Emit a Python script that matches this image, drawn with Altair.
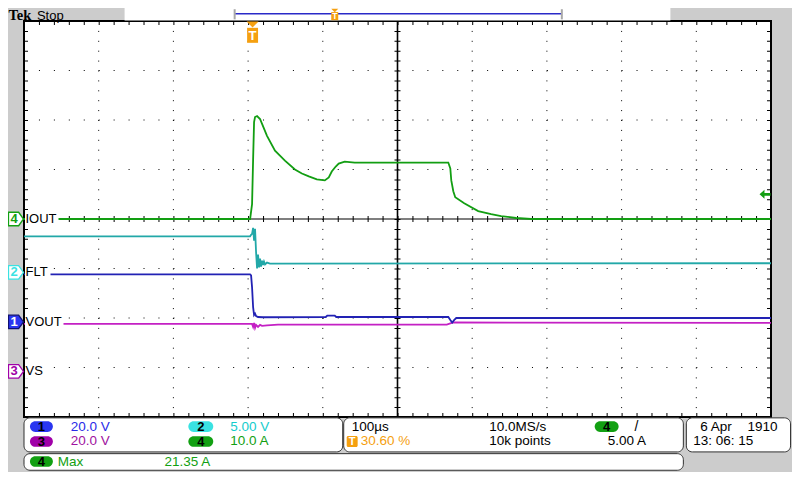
import altair as alt
import pandas as pd

# ---------------- values ----------------
TIME_PER_DIV_US = 100.0
N_XDIV = 10
N_YDIV = 8

ch_ids = ["1", "2", "3", "4"]
ch_names = ["VOUT", "FLT", "VS", "IOUT"]
ch_per_div = [20.0, 5.0, 20.0, 10.0]          # V/div or A/div
ch_offset = [-2.08, -1.08, -3.08, 0.0]        # trace position (divisions)
ch_scale_text = ["20.0 V", "5.00 V", "20.0 V", "10.0 A"]

trigger_pct = 30.60
trigger_level = 5.00
trigger_level_text = "5.00 A"
iout_max_text = "21.35 A"
timebase_text = "100µs"
trigger_text = "30.60 %"
rate_text = "10.0MS/s"
points_text = "10k points"
date_text = "6 Apr"
year_text = "1910"
time_text = "13: 06: 15"

# channel 4 : IOUT  (time in us from the left edge of the screen, amps)
iout_t = [0, 302.7, 305.3, 306.7, 308.0, 309.3, 312.0, 316.0, 318.7, 325.3, 336.0,
          349.3, 362.7, 372.0, 381.3, 392.0, 402.7, 408.0, 412.0, 417.3, 421.3,
          429.3, 442.7, 500.0, 568.0, 570.7, 572.0, 574.7, 577.3, 589.3, 608.0,
          625.3, 638.7, 658.7, 678.7, 1000]
iout_a = [0, 0, 3.0, 12.0, 19.6, 20.6, 20.8, 20.2, 19.2, 16.8, 13.8,
          11.8, 10.0, 9.2, 8.6, 8.0, 7.8, 8.4, 9.6, 10.6, 11.2,
          11.6, 11.4, 11.4, 11.4, 10.2, 7.8, 5.6, 4.4, 3.2, 1.6,
          1.0, 0.6, 0.2, 0.0, 0.0]

# channel 2 : FLT (volts)
flt_t = [0, 302.7, 304.0, 305.3, 306.7, 308.0, 309.3, 310.7, 312.0, 313.3, 314.7,
         316.0, 317.3, 318.7, 320.0, 321.3, 322.7, 325.3, 329.3, 1000]
flt_v = [3.65, 3.65, 3.8, 3.9, 4.5, 3.2, 4.4, 2.0, 0.4, 1.8, 0.5,
         1.4, 0.6, 1.2, 0.75, 1.1, 0.82, 1.0, 0.9, 0.93]

# channel 1 : VOUT (volts)
vout_t = [0, 302.7, 304.0, 305.3, 306.7, 308.0, 309.3, 310.7, 313.3, 320.0, 404.0,
          406.0, 416.0, 418.0, 568.0, 570.7, 573.3, 576.0, 578.7, 1000]
vout_v = [19.2, 19.2, 18.8, 14.0, 6.0, 2.8, 3.4, 2.4, 2.0, 1.9, 2.0,
          2.6, 2.6, 2.0, 2.0, 0.8, -0.2, 0.8, 1.6, 1.6]

# channel 3 : VS (volts)
vs_t = [0, 302.7, 305.3, 306.7, 308.0, 309.3, 310.7, 313.3, 316.0, 318.7, 325.3,
        340.0, 566.0, 570.7, 574.7, 1000]
vs_v = [19.2, 19.2, 19.2, 18.0, 19.6, 17.6, 18.8, 18.0, 18.8, 18.4, 18.6,
        18.9, 18.9, 19.4, 19.8, 19.6]

grid_x = [-4, -3, -2, -1, 1, 2, 3, 4]
grid_y = [-3, -2, -1, 1, 2, 3]

# ---------------- styling ----------------
TRACE_COL = {"1": "#2222b4", "2": "#22a8a8", "3": "#c420c4", "4": "#129e12"}
TEXT_COL = {"1": "#2a2ae8", "2": "#14cccc", "3": "#a012a0", "4": "#12a012"}
PILL_COL = {"1": "#2a36f0", "2": "#3ae2e2", "3": "#a000a8", "4": "#12a012"}
ORANGE = "#f5a010"
SANS = "Liberation Sans"

W, H = 784, 464


def fx(r):
    if r <= 21:
        p = 8 + r * 16 / 21
    elif r <= 771:
        p = 24 + (r - 21) * 747 / 750
    else:
        p = 771 + (r - 771) * 21 / 29
    return p - 8


def fy(r):
    if r <= 16:
        p = 8 + r * 13 / 16
    elif r <= 417:
        p = 21 + (r - 16) * 396 / 401
    else:
        p = 417 + (r - 417) * 55 / 63
    return p - 8


X0, X1 = fx(21), fx(771)
Y0, Y1 = fy(16), fy(417)
DX = (X1 - X0) / 50.0
DY = (Y1 - Y0) / 40.0
XS = alt.Scale(domain=[-N_XDIV / 2, N_XDIV / 2], range=[X0, X1])
YS = alt.Scale(domain=[-N_YDIV / 2, N_YDIV / 2], range=[Y1, Y0])
ONE = pd.DataFrame({"k": [0]})
L = []


def rect(x0, x1, y0, y1, **kw):
    return alt.Chart(ONE).mark_rect(**kw).encode(
        x=alt.value(x0), x2=alt.value(x1), y=alt.value(y0), y2=alt.value(y1))


def text(s, x, y, color="black", size=13.5, align="left", font=SANS, weight="normal",
         baseline="middle"):
    return alt.Chart(ONE).mark_text(text=s, align=align, baseline=baseline, font=font,
                                    fontSize=size, fontWeight=weight, color=color).encode(
        x=alt.value(x), y=alt.value(y))


def hrule(y, x0, x1, **kw):
    return alt.Chart(ONE).mark_rule(**kw).encode(y=alt.value(y), x=alt.value(x0), x2=alt.value(x1))


def vrule(x, y0, y1, **kw):
    return alt.Chart(ONE).mark_rule(**kw).encode(x=alt.value(x), y=alt.value(y0), y2=alt.value(y1))


# plot area
L.append(rect(X0, X1, Y0, Y1, fill="white", stroke="black", strokeWidth=2))

# dotted graticule
L.append(alt.Chart(pd.DataFrame({"g": grid_x})).mark_rule(
    color="black", strokeWidth=1, strokeDash=[1, DY - 1]).encode(
    x=alt.X("g:Q", scale=XS, axis=None), y=alt.value(Y0), y2=alt.value(Y1)))
L.append(alt.Chart(pd.DataFrame({"g": grid_y})).mark_rule(
    color="black", strokeWidth=1, strokeDash=[1, DX - 1]).encode(
    y=alt.Y("g:Q", scale=YS, axis=None), x=alt.value(X0), x2=alt.value(X1)))

# centre cross with minor ticks
ZERO = pd.DataFrame({"g": [0]})
L.append(alt.Chart(ZERO).mark_rule(color="black", strokeWidth=1.6).encode(
    x=alt.X("g:Q", scale=XS, axis=None), y=alt.value(Y0), y2=alt.value(Y1)))
L.append(alt.Chart(ZERO).mark_rule(color="black", strokeWidth=1.2).encode(
    y=alt.Y("g:Q", scale=YS, axis=None), x=alt.value(X0), x2=alt.value(X1)))
L.append(alt.Chart(ZERO).mark_rule(color="black", strokeWidth=6, strokeDash=[1, DY - 1]).encode(
    x=alt.X("g:Q", scale=XS, axis=None), y=alt.value(Y0), y2=alt.value(Y1)))
L.append(alt.Chart(ZERO).mark_rule(color="black", strokeWidth=6, strokeDash=[1, DX - 1]).encode(
    y=alt.Y("g:Q", scale=YS, axis=None), x=alt.value(X0), x2=alt.value(X1)))

# border ticks
L.append(hrule(Y0 + 2.5, X0, X1, color="black", strokeWidth=3, strokeDash=[1, DX - 1]))
L.append(hrule(Y1 - 2.5, X0, X1, color="black", strokeWidth=3, strokeDash=[1, DX - 1]))
L.append(vrule(X0 + 2.5, Y0, Y1, color="black", strokeWidth=3, strokeDash=[1, DY - 1]))
L.append(vrule(X1 - 2.5, Y0, Y1, color="black", strokeWidth=3, strokeDash=[1, DY - 1]))


# traces
def trace(t, v, i):
    df = pd.DataFrame({"t": t, "v": v})
    df["xd"] = df["t"] / TIME_PER_DIV_US - N_XDIV / 2
    df["yd"] = df["v"] / ch_per_div[i] + ch_offset[i]
    return alt.Chart(df).mark_line(color=TRACE_COL[ch_ids[i]], strokeWidth=1.8).encode(
        x=alt.X("xd:Q", scale=XS, axis=None),
        y=alt.Y("yd:Q", scale=YS, axis=None),
        order="t:Q")


L.append(trace(vs_t, vs_v, 2))
L.append(trace(vout_t, vout_v, 0))
L.append(trace(flt_t, flt_v, 1))
L.append(trace(iout_t, iout_a, 3))

# channel labels, markers
LABEL_SIZE = 13
label_w = {"1": 36.5, "2": 23.5, "3": 17.5, "4": 31.5}
MARK_PATH = "M-1,-0.9 L0.35,-0.9 L1,0 L0.35,0.9 L-1,0.9 Z"
for i, cid in enumerate(ch_ids):
    off = ch_offset[i]
    df = pd.DataFrame({"y": [off], "lo": [off - 0.15], "hi": [off + 0.15]})
    L.append(alt.Chart(df).mark_rect(fill="white").encode(
        x=alt.value(X0 + 1), x2=alt.value(X0 + 3 + label_w[cid]),
        y=alt.Y("lo:Q", scale=YS, axis=None), y2="hi:Q"))
    L.append(alt.Chart(df).mark_text(text=ch_names[i], align="left", baseline="middle",
                                     font=SANS, fontSize=LABEL_SIZE, color="black").encode(
        x=alt.value(X0 + 1.5), y=alt.Y("y:Q", scale=YS, axis=None)))
    fill = PILL_COL[cid] if cid == "1" else "white"
    stroke = "#101070" if cid == "1" else PILL_COL[cid]
    L.append(alt.Chart(df).mark_point(shape=MARK_PATH, size=225, filled=True, fill=fill,
                                      stroke=stroke, strokeWidth=1.3, opacity=1).encode(
        x=alt.value(fx(10.5)), y=alt.Y("y:Q", scale=YS, axis=None)))
    L.append(alt.Chart(df).mark_text(text=cid, align="center", baseline="middle", font=SANS,
                                     fontSize=13, fontWeight="bold",
                                     color="white" if cid == "1" else PILL_COL[cid]).encode(
        x=alt.value(fx(8)), y=alt.Y("y:Q", scale=YS, axis=None)))

# trigger position marker (top)
trig = pd.DataFrame({"x": [trigger_pct / 100 * N_XDIV - N_XDIV / 2]})
L.append(alt.Chart(trig).mark_point(shape="M-1,-0.5 L1,-0.5 L0,0.5 Z", size=144, filled=True,
                                    fill=ORANGE, opacity=1).encode(
    x=alt.X("x:Q", scale=XS, axis=None), y=alt.value(fy(19.5))))
L.append(alt.Chart(trig).mark_point(shape="M-0.73,-1 L0.73,-1 L0.73,1 L-0.73,1 Z", size=225,
                                    filled=True, fill=ORANGE, opacity=1).encode(
    x=alt.X("x:Q", scale=XS, axis=None), y=alt.value((fy(23) + fy(38)) / 2)))
L.append(alt.Chart(trig).mark_text(text="T", align="center", baseline="middle", font=SANS,
                                   fontSize=13, fontWeight="bold", color="white").encode(
    x=alt.X("x:Q", scale=XS, axis=None), y=alt.value((fy(23) + fy(38)) / 2 + 0.5)))

# trigger level marker (right)
tl = pd.DataFrame({"y": [trigger_level / ch_per_div[3] + ch_offset[3]]})
L.append(alt.Chart(tl).mark_point(shape="M-1,0 L-0.1,-0.8 L-0.1,-0.25 L1,-0.25 L1,0.25 L-0.1,0.25 L-0.1,0.8 Z",
                                  size=121, filled=True, fill=TRACE_COL["4"], opacity=1).encode(
    x=alt.value(fx(765)), y=alt.Y("y:Q", scale=YS, axis=None)))

# ---------------- header ----------------
L.append(text("Tek", 0.5, 11.5, font="Liberation Serif", size=14.5, weight="bold",
              baseline="alphabetic"))
L.append(text("Stop", fx(34), 11.5, size=13, baseline="alphabetic"))
L.append(rect(fx(122), fx(670), 0, fy(15.5), fill="white"))
L.append(hrule(fy(7), fx(233), fx(561), color="#2a2ac8", strokeWidth=1.5))
L.append(vrule(fx(232.5), fy(1.5), fy(14), color="#a8a8a8", strokeWidth=2))
L.append(vrule(fx(561), fy(1.5), fy(14), color="#a8a8a8", strokeWidth=2))
rx = fx(232 + trigger_pct / 100 * (562 - 232))
L.append(rect(rx - 3.5, rx + 3.5, fy(5), fy(15), fill=ORANGE))
L.append(alt.Chart(ONE).mark_point(shape="M-1,-0.5 L1,-0.5 L0,0.5 Z", size=49, filled=True,
                                   fill=ORANGE, opacity=1).encode(
    x=alt.value(rx), y=alt.value(fy(3))))
L.append(text("T", rx, fy(10.3), color="white", size=8.5, align="center", weight="bold"))

# ---------------- bottom panels ----------------
BOX = dict(fill="white", stroke="#303030", strokeWidth=1, cornerRadius=6)
L.append(rect(fx(21), fx(341), fy(418), fy(457), **BOX))
L.append(rect(fx(342), fx(683), fy(418), fy(457), **BOX))
L.append(rect(fx(686), fx(798), fy(418), fy(457), **BOX))
L.append(rect(fx(21), fx(683), fy(459), fy(478), **BOX))

R1, R2, R3 = fy(428), fy(445), fy(468)


def pill(cid, x0, x1, yc):
    L.append(rect(fx(x0), fx(x1), yc - 5.3, yc + 5.3, fill=PILL_COL[cid], cornerRadius=5.3))
    L.append(text(cid, (fx(x0) + fx(x1)) / 2, yc + 0.5, color="black", size=13,
                  align="center", weight="bold"))


pill("1", 27, 50, R1)
pill("3", 27, 50, R2)
pill("2", 186, 211, R1)
pill("4", 186, 211, R2)
pill("4", 27, 50, R3)
pill("4", 594, 618, R1)

L.append(text(ch_scale_text[0], fx(68), R1, color=TEXT_COL["1"]))
L.append(text(ch_scale_text[2], fx(68), R2, color=TEXT_COL["3"]))
L.append(text(ch_scale_text[1], fx(228), R1, color=TEXT_COL["2"]))
L.append(text(ch_scale_text[3], fx(228), R2, color=TEXT_COL["4"]))
L.append(text("Max", fx(55), R3, color=TEXT_COL["4"]))
L.append(text(iout_max_text, fx(162), R3, color=TEXT_COL["4"]))

L.append(text(timebase_text, fx(350), R1))
L.append(rect(fx(345), fx(356), R2 - 5.5, R2 + 5.5, fill=ORANGE, cornerRadius=1.5))
L.append(text("T", (fx(345) + fx(356)) / 2, R2 + 0.5, color="white", size=11,
              align="center", weight="bold"))
L.append(text(trigger_text, fx(359), R2, color=ORANGE))
L.append(text(rate_text, fx(488), R1))
L.append(text(points_text, fx(488), R2))
L.append(text("/", fx(634), R1, size=14))
L.append(text(trigger_level_text, fx(607), R2))

L.append(text(date_text, fx(700), R1))
L.append(text(year_text, fx(780), R1, align="right"))
L.append(text(time_text, fx(693), R2))

chart = alt.layer(*L).properties(
    width=W, height=H, padding=0,
    autosize=alt.AutoSizeParams(type="none"),
    background="#cccccc",
).configure_view(strokeWidth=0)

chart.save("out.html", embed_options={"renderer": "svg", "actions": False})
